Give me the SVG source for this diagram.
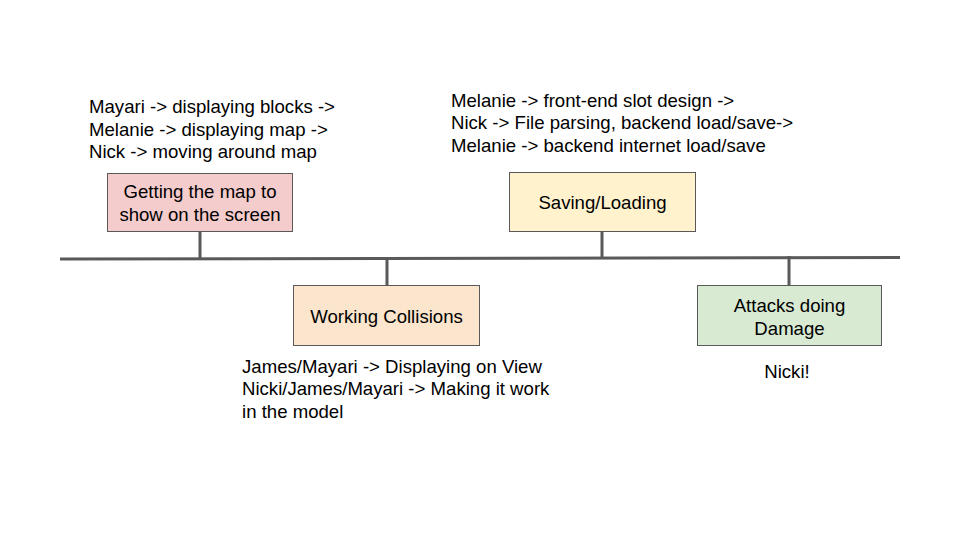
<svg xmlns="http://www.w3.org/2000/svg" width="960" height="540" viewBox="0 0 960 540">
<style>
text{font-family:"Liberation Sans",Arial,sans-serif;font-size:18.6px;fill:#000}
.c{text-anchor:middle}
.box{stroke:#595959;stroke-width:1}
.ln{stroke:#595959;stroke-width:3;fill:none}
</style>
<rect width="960" height="540" fill="#fff"/>
<g id="connectors">
<line class="ln" x1="60" y1="259" x2="900" y2="257.5"/>
<line class="ln" x1="200" y1="231" x2="200" y2="259"/>
<line class="ln" x1="387" y1="258.5" x2="387" y2="285"/>
<line class="ln" x1="602" y1="231" x2="602" y2="258"/>
<line class="ln" x1="789" y1="256" x2="789" y2="285"/>
</g>
<g id="node1">
<rect class="box" x="107.5" y="173.5" width="185" height="58" fill="#f4cccc"/>
<text class="c" x="200" y="198">Getting the map to</text>
<text class="c" x="200" y="221">show on the screen</text>
</g>
<g id="node2">
<rect class="box" x="293.5" y="285.5" width="186" height="60" fill="#fce5cd"/>
<text class="c" x="386.5" y="323">Working Collisions</text>
</g>
<g id="node3">
<rect class="box" x="509.5" y="172.5" width="186" height="59" fill="#fff2cc"/>
<text class="c" x="602.5" y="209">Saving/Loading</text>
</g>
<g id="node4">
<rect class="box" x="697.5" y="285.5" width="184" height="60" fill="#d9ead3"/>
<text class="c" x="789.5" y="312">Attacks doing</text>
<text class="c" x="789.5" y="335">Damage</text>
</g>
<g id="notes">
<text x="89" y="113">Mayari -&gt; displaying blocks -&gt;</text>
<text x="89" y="136">Melanie -&gt; displaying map -&gt;</text>
<text x="89" y="158">Nick -&gt; moving around map</text>
<text x="451" y="107">Melanie -&gt; front-end slot design -&gt;</text>
<text x="451" y="129">Nick -&gt; File parsing, backend load/save-&gt;</text>
<text x="451" y="152">Melanie -&gt; backend internet load/save</text>
<text x="242" y="373">James/Mayari -&gt; Displaying on View</text>
<text x="242" y="395">Nicki/James/Mayari -&gt; Making it work</text>
<text x="242" y="418">in the model</text>
<text class="c" x="787" y="378">Nicki!</text>
</g>
</svg>
